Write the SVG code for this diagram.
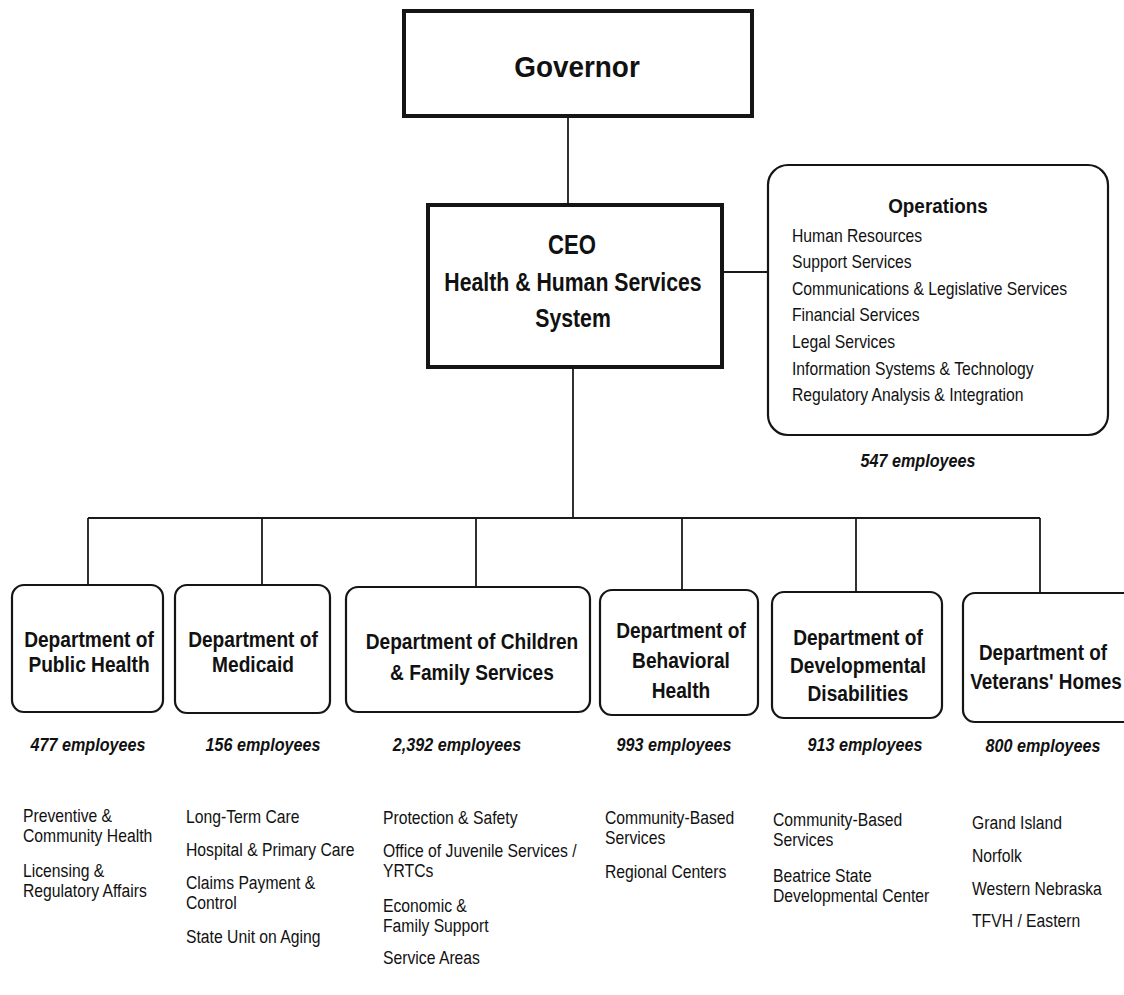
<svg xmlns="http://www.w3.org/2000/svg" width="1124" height="995" viewBox="0 0 1124 995">
<style>
.bg{fill:#ffffff}
.sq{fill:#fff;stroke:#151515;stroke-width:4}
.rb{fill:#fff;stroke:#151515;stroke-width:2.2}
.ln{fill:none;stroke:#1a1a1a;stroke-width:1.8}
text{font-family:"Liberation Sans",Arial,sans-serif;fill:#111}
.b{font-weight:bold}
.c{text-anchor:middle}
.bi{font-weight:bold;font-style:italic;font-size:19px;text-anchor:middle}
.dt{font-weight:bold;font-size:22px;text-anchor:middle}
.ls{font-size:18.5px}
</style>
<rect class="bg" x="0" y="0" width="1124" height="995"/>
<g id="connectors">
<line class="ln" x1="568" y1="117" x2="568" y2="205"/>
<line class="ln" x1="723" y1="272" x2="768" y2="272"/>
<line class="ln" x1="573" y1="367" x2="573" y2="518"/>
<line class="ln" x1="88" y1="518" x2="1040" y2="518"/>
<line class="ln" x1="88" y1="518" x2="88" y2="585"/>
<line class="ln" x1="262" y1="518" x2="262" y2="585"/>
<line class="ln" x1="476" y1="518" x2="476" y2="587"/>
<line class="ln" x1="682" y1="518" x2="682" y2="590"/>
<line class="ln" x1="856" y1="518" x2="856" y2="592"/>
<line class="ln" x1="1040" y1="518" x2="1040" y2="593"/>
</g>
<g id="governor">
<rect class="sq" x="404" y="11" width="348" height="105" stroke-width="3.5"/>
<text class="b c" font-size="30" transform="translate(577,77) scale(0.93,1)">Governor</text>
</g>
<g id="ceo">
<rect class="sq" x="428" y="205" width="294" height="162"/>
<text class="b c" font-size="27" transform="translate(572,254) scale(0.82,1)">CEO</text>
<text class="b c" font-size="25" transform="translate(573,291) scale(0.85,1)">Health &amp; Human Services</text>
<text class="b c" font-size="25" transform="translate(573,327) scale(0.85,1)">System</text>
</g>
<g id="operations">
<rect class="rb" x="768" y="165" width="340" height="270" rx="20" ry="20"/>
<text class="b c" font-size="21" transform="translate(938,213) scale(0.9,1)">Operations</text>
<text class="ls" transform="translate(792,242) scale(0.85,1)">Human Resources</text>
<text class="ls" transform="translate(792,268) scale(0.85,1)">Support Services</text>
<text class="ls" transform="translate(792,295) scale(0.85,1)">Communications &amp; Legislative Services</text>
<text class="ls" transform="translate(792,321) scale(0.85,1)">Financial Services</text>
<text class="ls" transform="translate(792,348) scale(0.85,1)">Legal Services</text>
<text class="ls" transform="translate(792,375) scale(0.85,1)">Information Systems &amp; Technology</text>
<text class="ls" transform="translate(792,401) scale(0.85,1)">Regulatory Analysis &amp; Integration</text>
<text class="bi" transform="translate(918,467) scale(0.85,1)">547 employees</text>
</g>
<g id="dept-public-health">
<rect class="rb" x="12" y="585" width="151" height="127" rx="12" ry="12"/>
<text class="dt" transform="translate(89,647) scale(0.87,1)">Department of</text>
<text class="dt" transform="translate(89,672) scale(0.87,1)">Public Health</text>
<text class="bi" transform="translate(88,751) scale(0.85,1)">477 employees</text>
<text class="ls" transform="translate(23,822) scale(0.85,1)">Preventive &amp;</text>
<text class="ls" transform="translate(23,842) scale(0.85,1)">Community Health</text>
<text class="ls" transform="translate(23,877) scale(0.85,1)">Licensing &amp;</text>
<text class="ls" transform="translate(23,897) scale(0.85,1)">Regulatory Affairs</text>
</g>
<g id="dept-medicaid">
<rect class="rb" x="175" y="585" width="155" height="128" rx="12" ry="12"/>
<text class="dt" transform="translate(253,647) scale(0.87,1)">Department of</text>
<text class="dt" transform="translate(253,672) scale(0.87,1)">Medicaid</text>
<text class="bi" transform="translate(263,751) scale(0.85,1)">156 employees</text>
<text class="ls" transform="translate(186,823) scale(0.85,1)">Long-Term Care</text>
<text class="ls" transform="translate(186,856) scale(0.85,1)">Hospital &amp; Primary Care</text>
<text class="ls" transform="translate(186,889) scale(0.85,1)">Claims Payment &amp;</text>
<text class="ls" transform="translate(186,909) scale(0.85,1)">Control</text>
<text class="ls" transform="translate(186,943) scale(0.85,1)">State Unit on Aging</text>
</g>
<g id="dept-children-family">
<rect class="rb" x="346" y="587" width="244" height="125" rx="12" ry="12"/>
<text class="dt" transform="translate(472,649) scale(0.87,1)">Department of Children</text>
<text class="dt" transform="translate(472,680) scale(0.87,1)">&amp; Family Services</text>
<text class="bi" transform="translate(457,751) scale(0.85,1)">2,392 employees</text>
<text class="ls" transform="translate(383,824) scale(0.85,1)">Protection &amp; Safety</text>
<text class="ls" transform="translate(383,857) scale(0.85,1)">Office of Juvenile Services /</text>
<text class="ls" transform="translate(383,877) scale(0.85,1)">YRTCs</text>
<text class="ls" transform="translate(383,912) scale(0.85,1)">Economic &amp;</text>
<text class="ls" transform="translate(383,932) scale(0.85,1)">Family Support</text>
<text class="ls" transform="translate(383,964) scale(0.85,1)">Service Areas</text>
</g>
<g id="dept-behavioral">
<rect class="rb" x="600" y="590" width="158" height="125" rx="12" ry="12"/>
<text class="dt" transform="translate(681,638) scale(0.87,1)">Department of</text>
<text class="dt" transform="translate(681,668) scale(0.87,1)">Behavioral</text>
<text class="dt" transform="translate(681,698) scale(0.87,1)">Health</text>
<text class="bi" transform="translate(674,751) scale(0.85,1)">993 employees</text>
<text class="ls" transform="translate(605,824) scale(0.85,1)">Community-Based</text>
<text class="ls" transform="translate(605,844) scale(0.85,1)">Services</text>
<text class="ls" transform="translate(605,878) scale(0.85,1)">Regional Centers</text>
</g>
<g id="dept-developmental">
<rect class="rb" x="772" y="592" width="170" height="126" rx="12" ry="12"/>
<text class="dt" transform="translate(858,645) scale(0.87,1)">Department of</text>
<text class="dt" transform="translate(858,673) scale(0.87,1)">Developmental</text>
<text class="dt" transform="translate(858,701) scale(0.87,1)">Disabilities</text>
<text class="bi" transform="translate(865,751) scale(0.85,1)">913 employees</text>
<text class="ls" transform="translate(773,826) scale(0.85,1)">Community-Based</text>
<text class="ls" transform="translate(773,846) scale(0.85,1)">Services</text>
<text class="ls" transform="translate(773,882) scale(0.85,1)">Beatrice State</text>
<text class="ls" transform="translate(773,902) scale(0.85,1)">Developmental Center</text>
</g>
<g id="dept-veterans">
<rect class="rb" x="963" y="593" width="180" height="129" rx="12" ry="12"/>
<text class="dt" transform="translate(1043,660) scale(0.86,1)">Department of</text>
<text class="dt" transform="translate(1046,689) scale(0.86,1)">Veterans' Homes</text>
<text class="bi" transform="translate(1043,752) scale(0.85,1)">800 employees</text>
<text class="ls" transform="translate(972,829) scale(0.85,1)">Grand Island</text>
<text class="ls" transform="translate(972,862) scale(0.85,1)">Norfolk</text>
<text class="ls" transform="translate(972,895) scale(0.85,1)">Western Nebraska</text>
<text class="ls" transform="translate(972,927) scale(0.85,1)">TFVH / Eastern</text>
</g>
</svg>
